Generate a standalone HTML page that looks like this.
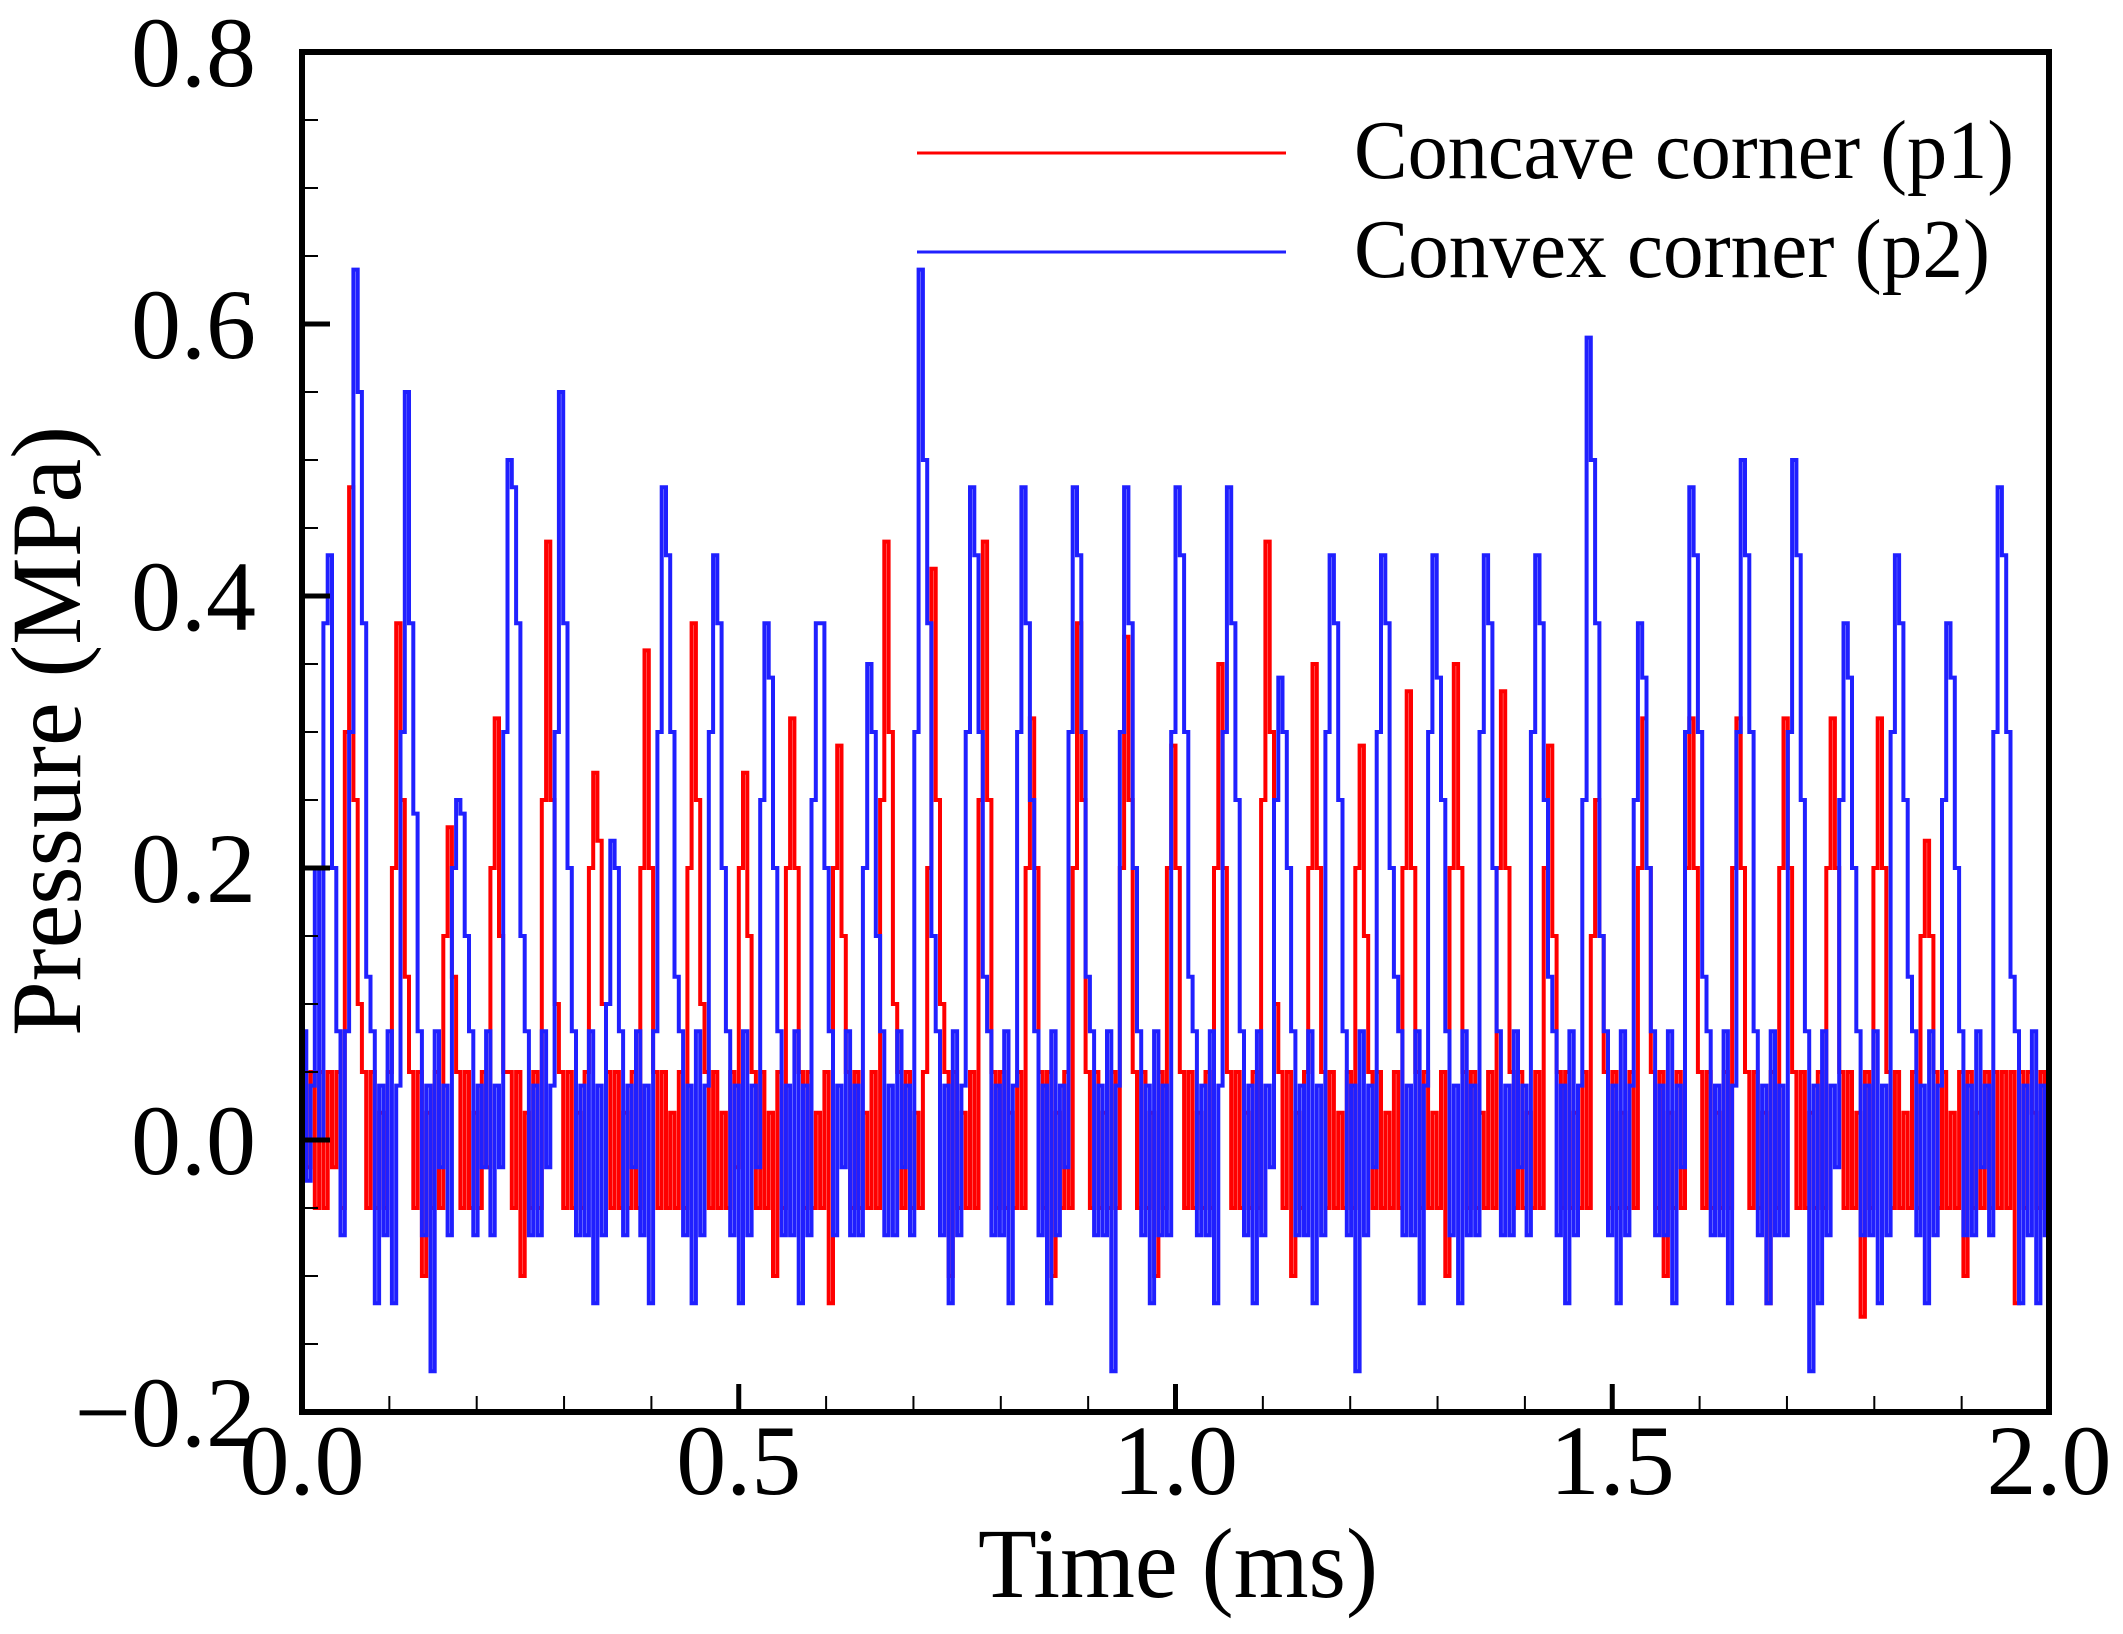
<!DOCTYPE html>
<html><head><meta charset="utf-8"><style>
html,body{margin:0;padding:0;background:#fff;}
svg{display:block;font-family:"Liberation Serif",serif;}
</style></head><body>
<svg id="chart" width="2123" height="1634" viewBox="0 0 2123 1634" xmlns="http://www.w3.org/2000/svg">
<rect x="0" y="0" width="2123" height="1634" fill="#fff"/>
<g id="series"></g>
<g id="axes"></g>
<g id="legend">
<line x1="917" y1="153" x2="1286" y2="153" stroke="#ff0000" stroke-width="3"/>
<text x="1354" y="178" font-size="84" textLength="660" lengthAdjust="spacingAndGlyphs">Concave corner (p1)</text>
<line x1="917" y1="252" x2="1286" y2="252" stroke="#2020ff" stroke-width="3"/>
<text x="1354" y="277" font-size="84" textLength="636" lengthAdjust="spacingAndGlyphs">Convex corner (p2)</text>
</g>
<text x="1178" y="1597" font-size="100" text-anchor="middle" textLength="400" lengthAdjust="spacingAndGlyphs">Time (ms)</text>
<text transform="translate(80,731) rotate(-90)" font-size="100" text-anchor="middle" textLength="610" lengthAdjust="spacingAndGlyphs">Pressure (MPa)</text>
</svg>
<script>
const xTicks = [0, 0.5, 1.0, 1.5, 2.0];
const xTickLabels = ["0.0", "0.5", "1.0", "1.5", "2.0"];
const yTicks = [-0.2, 0, 0.2, 0.4, 0.6, 0.8];
const yTickLabels = ["\u22120.2", "0.0", "0.2", "0.4", "0.6", "0.8"];
const timeRange = [0, 2];
const p2Convex = [
0.08,-0.03,0.04,0.2,
0.0,0.38,0.43,0.2,0.08,-0.07,0.08,0.3,
0.64,0.55,0.38,0.12,0.08,-0.12,0.04,-0.07,0.08,-0.12,0.04,0.3,
0.55,0.38,0.24,0.08,-0.07,0.04,-0.17,0.08,-0.02,0.04,-0.07,0.2,
0.25,0.24,0.15,0.08,-0.07,0.04,-0.02,0.08,-0.07,0.04,-0.02,0.3,
0.5,0.48,0.38,0.15,0.08,-0.07,0.04,-0.07,0.08,-0.02,0.04,0.3,
0.55,0.38,0.2,0.08,-0.07,0.04,-0.07,0.08,-0.12,0.04,-0.07,0.1,
0.22,0.2,0.08,-0.07,0.04,-0.02,0.08,-0.07,0.04,-0.12,0.08,0.3,
0.48,0.43,0.3,0.12,0.08,-0.07,0.04,-0.12,0.08,-0.07,0.04,0.3,
0.43,0.38,0.2,0.08,-0.07,0.04,-0.12,0.08,-0.07,0.04,-0.02,0.25,
0.38,0.34,0.2,0.08,-0.07,0.04,-0.07,0.08,-0.12,0.04,-0.07,0.25,
0.38,0.38,0.2,0.08,-0.07,0.04,-0.02,0.08,-0.07,0.04,-0.07,0.2,
0.35,0.3,0.15,0.08,-0.07,0.04,-0.07,0.08,-0.02,0.04,-0.07,0.3,
0.64,0.5,0.38,0.15,0.08,-0.07,0.04,-0.12,0.08,-0.07,0.04,0.3,
0.48,0.43,0.3,0.12,0.08,-0.07,0.04,-0.07,0.08,-0.12,0.04,0.3,
0.48,0.38,0.25,0.08,-0.07,0.04,-0.12,0.08,-0.07,0.04,-0.02,0.3,
0.48,0.43,0.3,0.12,0.08,-0.07,0.04,-0.07,0.08,-0.17,0.04,0.3,
0.48,0.38,0.2,0.08,-0.07,0.04,-0.12,0.08,-0.07,0.04,-0.07,0.3,
0.48,0.43,0.3,0.12,0.08,-0.07,0.04,-0.07,0.08,-0.12,0.04,0.3,
0.48,0.38,0.25,0.08,-0.07,0.04,-0.12,0.08,-0.07,0.04,-0.02,0.25,
0.34,0.3,0.2,0.08,-0.07,0.04,-0.07,0.08,-0.12,0.04,-0.07,0.3,
0.43,0.38,0.25,0.08,-0.07,0.04,-0.17,0.08,-0.07,0.04,-0.02,0.3,
0.43,0.38,0.2,0.12,0.08,-0.07,0.04,-0.07,0.08,-0.12,0.04,0.3,
0.43,0.34,0.25,0.08,-0.07,0.04,-0.12,0.08,-0.07,0.04,-0.07,0.3,
0.43,0.38,0.2,0.08,-0.07,0.04,-0.07,0.08,-0.02,0.04,-0.07,0.3,
0.43,0.38,0.25,0.12,0.08,-0.07,0.04,-0.12,0.08,-0.07,0.04,0.25,
0.59,0.5,0.38,0.15,0.08,-0.07,0.04,-0.12,0.08,-0.07,0.04,0.25,
0.38,0.34,0.2,0.08,-0.07,0.04,-0.07,0.08,-0.12,0.04,-0.02,0.3,
0.48,0.43,0.3,0.12,0.08,-0.07,0.04,-0.07,0.08,-0.12,0.04,0.3,
0.5,0.43,0.3,0.08,-0.07,0.04,-0.12,0.08,-0.07,0.04,-0.07,0.3,
0.5,0.43,0.25,0.08,-0.17,0.04,-0.12,0.08,-0.07,0.04,-0.02,0.25,
0.38,0.34,0.2,0.08,-0.07,0.04,-0.07,0.08,-0.12,0.04,-0.07,0.3,
0.43,0.38,0.25,0.12,0.08,-0.07,0.04,-0.12,0.08,-0.07,0.04,0.25,
0.38,0.34,0.2,0.08,-0.07,0.04,-0.07,0.08,-0.02,0.04,-0.07,0.3,
0.48,0.43,0.3,0.12,0.08,-0.12,0.04,-0.07,0.08,-0.12,0.04,-0.07
];
const p1Concave = [
0.05,-0.02,0.05,-0.05,
0.05,-0.05,0.05,-0.02,0.05,-0.05,0.3,0.48,
0.25,0.1,0.05,-0.05,0.05,-0.05,0.02,-0.05,0.05,0.2,0.38,0.25,
0.12,0.05,-0.05,0.05,-0.1,0.02,-0.05,0.05,-0.05,0.15,0.23,0.12,
0.05,-0.05,0.05,-0.05,0.02,-0.05,0.05,-0.02,0.2,0.31,0.15,0.05,
0.05,-0.05,0.05,-0.1,0.02,-0.05,0.05,-0.05,0.25,0.44,0.25,0.1,
0.05,-0.05,0.05,-0.05,0.02,-0.05,0.05,0.2,0.27,0.22,0.1,0.05,
-0.05,0.05,-0.05,0.02,-0.05,0.05,-0.05,0.2,0.36,0.2,0.05,-0.05,
0.05,-0.05,0.02,-0.05,0.05,-0.05,0.2,0.38,0.25,0.1,0.05,-0.05,
0.05,-0.05,0.02,-0.05,0.05,-0.02,0.2,0.27,0.15,0.05,-0.05,0.05,
-0.05,0.02,-0.1,0.05,-0.05,0.2,0.31,0.2,0.05,-0.05,0.05,-0.05,
0.02,-0.05,0.05,-0.12,0.2,0.29,0.15,0.05,-0.05,0.05,-0.05,0.02,
-0.05,0.05,-0.05,0.25,0.44,0.3,0.1,0.05,-0.05,0.05,-0.05,0.02,
-0.05,0.05,0.2,0.42,0.25,0.1,0.05,-0.1,0.05,-0.05,0.02,-0.05,
0.05,-0.05,0.25,0.44,0.25,0.05,-0.05,0.05,-0.05,0.02,-0.05,0.05,
-0.05,0.2,0.31,0.2,0.05,-0.05,0.05,-0.1,0.02,-0.05,0.05,-0.05,
0.2,0.38,0.25,0.05,-0.05,0.05,-0.05,0.02,-0.05,0.05,-0.05,0.2,
0.37,0.25,0.05,-0.05,0.05,-0.05,0.02,-0.1,0.05,-0.05,0.2,0.29,
0.2,0.05,-0.05,0.05,-0.05,0.02,-0.05,0.05,-0.05,0.2,0.35,0.2,
0.05,-0.05,0.05,-0.05,0.02,-0.05,0.05,-0.05,0.25,0.44,0.3,0.1,
0.05,-0.05,0.05,-0.1,0.02,-0.05,0.05,0.2,0.35,0.2,0.05,-0.05,
0.05,-0.05,0.02,-0.05,0.05,-0.05,0.2,0.29,0.15,0.05,-0.05,0.05,
-0.05,0.02,-0.05,0.05,-0.05,0.2,0.33,0.2,0.05,-0.05,0.05,-0.05,
0.02,-0.05,0.05,-0.1,0.2,0.35,0.2,0.05,-0.05,0.05,-0.05,0.02,
-0.05,0.05,-0.05,0.2,0.33,0.2,0.05,-0.05,0.05,-0.05,0.02,-0.05,
0.05,-0.05,0.2,0.29,0.15,0.05,-0.05,0.05,-0.05,0.02,-0.05,0.05,
-0.05,0.15,0.25,0.15,0.05,-0.05,0.05,-0.05,0.02,-0.05,0.05,-0.05,
0.2,0.31,0.2,0.05,-0.05,0.05,-0.1,0.02,-0.05,0.05,-0.05,0.2,
0.31,0.2,0.05,-0.05,0.05,-0.05,0.02,-0.05,0.05,-0.05,0.2,0.31,
0.2,0.05,-0.05,0.05,-0.05,0.02,-0.12,0.05,-0.05,0.2,0.31,0.2,
0.05,-0.05,0.05,-0.05,0.02,-0.05,0.05,-0.05,0.2,0.31,0.2,0.05,
-0.05,0.05,-0.05,0.02,-0.13,0.05,-0.05,0.2,0.31,0.2,0.05,-0.05,
0.05,-0.05,0.02,-0.05,0.05,-0.05,0.15,0.22,0.15,0.05,-0.05,0.05,
-0.05,0.02,-0.05,0.05,-0.1,0.05,-0.05,0.02,-0.05,0.05,-0.05,0.05,
-0.05,0.05,-0.05,0.05,-0.12,0.05,-0.05,0.05,0.02,-0.05,0.05,-0.05
];

const X0 = 302, X1 = 2049, Y0 = 1412, Y1 = 52;
function xScale(t) { return X0 + (t - timeRange[0]) / (timeRange[1] - timeRange[0]) * (X1 - X0); }
function yScale(v) { return Y0 - (v - (-0.2)) / 1.0 * (Y0 - Y1); }
const NS = "http://www.w3.org/2000/svg";

function drawSeries(vals, color, name) {
  const g = document.getElementById('series');
  const n = vals.length;
  let pts = [];
  for (let i = 0; i < n; i++) {
    const ta = timeRange[0] + i * (timeRange[1] - timeRange[0]) / n;
    const tb = timeRange[0] + (i + 1) * (timeRange[1] - timeRange[0]) / n;
    const y = yScale(vals[i]).toFixed(1);
    pts.push(xScale(ta).toFixed(1) + ',' + y);
    pts.push(xScale(tb).toFixed(1) + ',' + y);
  }
  const pl = document.createElementNS(NS, 'polyline');
  pl.setAttribute('points', pts.join(' '));
  pl.setAttribute('fill', 'none');
  pl.setAttribute('stroke', color);
  pl.setAttribute('stroke-width', '4');
  
  
  g.appendChild(pl);
}
drawSeries(p1Concave, '#ff0000', 'series-concave-p1');
drawSeries(p2Convex, '#2020ff', 'series-convex-p2');

const ax = document.getElementById('axes');
function line(x1, y1, x2, y2, w, name) {
  const l = document.createElementNS(NS, 'line');
  l.setAttribute('x1', x1); l.setAttribute('y1', y1);
  l.setAttribute('x2', x2); l.setAttribute('y2', y2);
  l.setAttribute('stroke', '#000'); l.setAttribute('stroke-width', w);
  
  
  ax.appendChild(l);
}
for (let k = 1; k < 20; k++) {
  const x = xScale(k * 0.1);
  if (k % 5 !== 0) line(x, Y0, x, Y0 - 16, 2, 'x-minor-tick');
}
for (let k = -4; k <= 16; k++) {
  if (k % 4 === 0) continue;
  const y = yScale(k * 0.05);
  line(X0, y, X0 + 16, y, 2, 'y-minor-tick');
}
xTicks.forEach((t, i) => {
  const x = xScale(t);
  line(x, Y0, x, Y0 - 28, 5, 'x-major-tick');
  const tx = document.createElementNS(NS, 'text');
  tx.setAttribute('x', x); tx.setAttribute('y', 1494);
  tx.setAttribute('font-size', '100'); tx.setAttribute('text-anchor', 'middle');
  tx.textContent = xTickLabels[i];
  
  
  ax.appendChild(tx);
});
yTicks.forEach((v, i) => {
  const y = yScale(v);
  line(X0, y, X0 + 28, y, 5, 'y-major-tick');
  const tx = document.createElementNS(NS, 'text');
  tx.setAttribute('x', 256); tx.setAttribute('y', y + 34);
  tx.setAttribute('font-size', '100'); tx.setAttribute('text-anchor', 'end');
  tx.textContent = yTickLabels[i];
  
  
  ax.appendChild(tx);
});
const frame = document.createElementNS(NS, 'rect');
frame.setAttribute('x', X0); frame.setAttribute('y', Y1);
frame.setAttribute('width', X1 - X0); frame.setAttribute('height', Y0 - Y1);
frame.setAttribute('fill', 'none'); frame.setAttribute('stroke', '#000'); frame.setAttribute('stroke-width', '6');


ax.appendChild(frame);
</script>
</body></html>
